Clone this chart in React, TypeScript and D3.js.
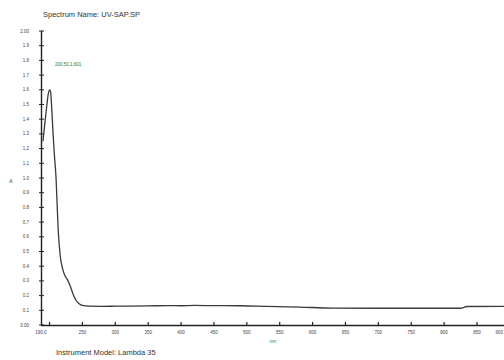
import { useEffect, useRef } from 'react'
import * as d3 from 'd3'

// wavelength (nm) / absorbance
const wavelengths = [190, 193, 196, 198, 200, 201.5, 203, 205, 207, 210, 213, 216, 220, 224, 227, 231, 235, 240, 245, 250, 260, 280, 300, 350, 380, 400, 420, 450, 490, 530, 580, 630, 700, 780, 825, 835, 900, 1000, 1100]
const absorbance = [1.25, 1.38, 1.5, 1.57, 1.6, 1.59, 1.5, 1.33, 1.18, 0.99, 0.66, 0.48, 0.38, 0.33, 0.31, 0.27, 0.22, 0.17, 0.145, 0.133, 0.128, 0.127, 0.128, 0.13, 0.132, 0.131, 0.133, 0.132, 0.131, 0.127, 0.122, 0.115, 0.114, 0.114, 0.114, 0.126, 0.127, 0.127, 0.127]

const xTicks = [190, 250, 300, 350, 400, 450, 500, 550, 600, 650, 700, 750, 800, 850, 900]
const yTicks = d3.range(0, 21).map(i => i / 10)

const W = 504
const H = 360

export default function App() {
  const svgRef = useRef<SVGSVGElement>(null)

  useEffect(() => {
    const svg = d3.select(svgRef.current)
    svg.selectAll('*').remove()

    // 250 nm sits at x=83, 850 nm at x=477
    const x = d3.scaleLinear().domain([187, 1100]).range([41, 41 + 913 * 0.6576])
    const y = d3.scaleLinear().domain([0, 2]).range([325, 31])

    const font = 'Liberation Sans, DejaVu Sans, sans-serif'

    svg.append('text')
      .attr('x', 43).attr('y', 17)
      .attr('font-family', font).attr('font-size', 7.5).attr('fill', '#333')
      .text('Spectrum Name: UV-SAP.SP')

    svg.append('text')
      .attr('x', 56).attr('y', 355)
      .attr('font-family', font).attr('font-size', 7.5).attr('fill', '#333')
      .text('Instrument Model: Lambda 35')

    // y axis
    svg.append('line')
      .attr('x1', 41.5).attr('x2', 41.5).attr('y1', y(2)).attr('y2', y(0))
      .attr('stroke', '#222').attr('stroke-width', 1.4)
    const yt = svg.append('g')
    yt.selectAll('line').data(yTicks).enter().append('line')
      .attr('x1', 39).attr('x2', 44)
      .attr('y1', d => y(d)).attr('y2', d => y(d))
      .attr('stroke', '#222').attr('stroke-width', 1)
    yt.selectAll('text').data(yTicks).enter().append('text')
      .attr('x', 29).attr('y', d => y(d) + 1.5)
      .attr('text-anchor', 'end')
      .attr('font-family', font).attr('font-size', 4.5).attr('fill', '#444')
      .text(d => (d === 0 || d === 2 ? d.toFixed(2) : d.toFixed(1)))

    // x axis
    svg.append('line')
      .attr('x1', 41).attr('x2', W + 10).attr('y1', 325.5).attr('y2', 325.5)
      .attr('stroke', '#222').attr('stroke-width', 1.4)
    const xt = svg.append('g')
    xt.selectAll('line').data([200, ...xTicks.slice(1)]).enter().append('line')
      .attr('x1', d => x(d)).attr('x2', d => x(d))
      .attr('y1', 322).attr('y2', 326)
      .attr('stroke', '#222').attr('stroke-width', 1.2)
    xt.selectAll('text').data(xTicks).enter().append('text')
      .attr('x', d => (d === 190 ? 41 : Math.min(x(d), W - 1)))
      .attr('y', 334)
      .attr('text-anchor', d => (x(d) > W - 6 ? 'end' : 'middle'))
      .attr('font-family', font).attr('font-size', 4.5).attr('fill', '#444')
      .text(d => (d === 190 ? '190.0' : String(d)))

    svg.append('text')
      .attr('x', 11).attr('y', 183)
      .attr('text-anchor', 'middle')
      .attr('font-family', font).attr('font-size', 5).attr('fill', '#444')
      .text('A')

    svg.append('text')
      .attr('x', 273).attr('y', 343)
      .attr('text-anchor', 'middle')
      .attr('font-family', font).attr('font-size', 5).attr('fill', '#2a8a2a')
      .text('nm')

    // peak label
    svg.append('text')
      .attr('x', 55).attr('y', 66)
      .attr('font-family', font).attr('font-size', 4.5).attr('fill', '#2a7a2a')
      .text('200.50,1.601')

    const pts: [number, number][] = wavelengths.map((w, i) => [w, absorbance[i]])
    const line = d3.line<[number, number]>()
      .x(d => x(d[0]))
      .y(d => y(d[1]))
      .curve(d3.curveMonotoneX)

    svg.append('path')
      .datum(pts)
      .attr('d', line)
      .attr('fill', 'none')
      .attr('stroke', '#3a3a3a')
      .attr('stroke-width', 1.3)
  }, [])

  return (
    <svg
      ref={svgRef}
      width={W}
      height={H}
      style={{ position: 'fixed', left: 0, top: 0, background: '#fff', overflow: 'hidden' }}
    />
  )
}
